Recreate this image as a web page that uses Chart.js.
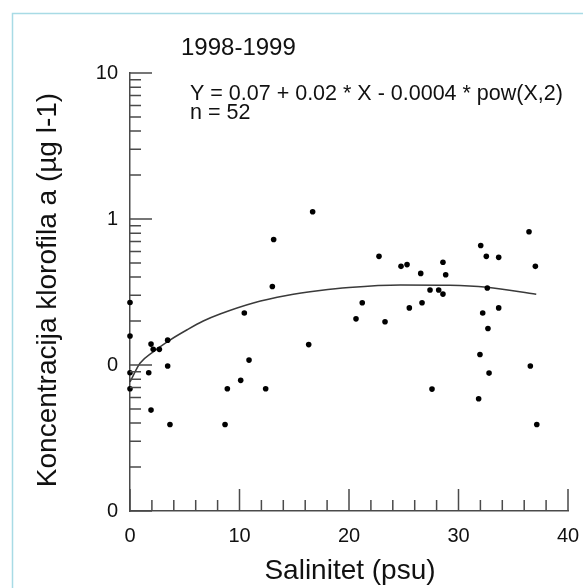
<!DOCTYPE html>
<html lang="hr">
<head>
    <meta charset="UTF-8">
    <title>Klorofil a - salinitet</title>
    <script src="https://cdn.jsdelivr.net/npm/chart.js@4.4.1/dist/chart.umd.min.js"></script>
    <style>
        html, body { margin: 0; padding: 0; background: #ffffff; }
        canvas { display: block; }
    </style>
</head>
<body>
    <canvas id="grafikon" width="583" height="588"></canvas>

    <script>
        // podaci ocitani sa slike
        const salinitet = [
            0, 0, 0, 0, 1.92, 2.12, 2.68, 3.44, 3.44, 1.71,
            1.92, 3.65, 8.68, 8.89, 10.11, 10.87, 10.44, 12.39, 13.0, 13.12,
            16.68, 16.32, 20.64, 21.21, 22.74, 23.29, 24.75, 25.30, 25.51, 26.55,
            26.67, 27.40, 27.58, 28.19, 28.58, 28.58, 28.83, 31.84, 31.96, 32.03,
            32.21, 32.54, 32.63, 32.69, 32.79, 33.67, 33.67, 36.44, 36.56, 37.02,
            37.15
        ];
        const klorofil = [
            0.268, 0.158, 0.0885, 0.0687, 0.139, 0.128, 0.128, 0.148, 0.0984, 0.0885,
            0.0491, 0.0391, 0.0391, 0.0687, 0.0785, 0.108, 0.227, 0.0687, 0.345, 0.723,
            1.12, 0.138, 0.207, 0.267, 0.555, 0.198, 0.474, 0.487, 0.246, 0.424,
            0.267, 0.326, 0.0684, 0.326, 0.505, 0.306, 0.415, 0.0587, 0.118, 0.658,
            0.227, 0.555, 0.337, 0.178, 0.088, 0.546, 0.246, 0.817, 0.0984, 0.474,
            0.0391
        ];

        // krivulja regresije (ocitano sa slike)
        const krivuljaX = [0, 0.91, 2.13, 3.65, 5.18, 6.69, 8.22, 11.26, 14.3, 17.35, 20.0, 24.7, 29.2, 32.6, 37.1];
        const krivuljaY = [0.0765, 0.1027, 0.1233, 0.1483, 0.1737, 0.2001, 0.2234, 0.2659, 0.2992, 0.3237, 0.3396, 0.3532, 0.3515, 0.3405, 0.305];

        // oznake osi
        const xOznake = [0, 10, 20, 30, 40];
        const yVrijednosti = [0.01, 0.1, 1, 10];
        const yOznake = ['0', '0', '1', '10'];

        const tocke = salinitet.map((x, i) => ({ x: x, y: klorofil[i] }));
        const krivulja = krivuljaX.map((x, i) => ({ x: x, y: krivuljaY[i] }));

        const bojaOsi = '#4a4a4a';
        const pismo = '"Liberation Sans", Arial, sans-serif';

        // okvir, crtice okrenute prema unutra i tekstovi
        const dodaci = {
            id: 'dodaci',
            beforeDraw(chart) {
                const c = chart.ctx;
                c.save();
                c.strokeStyle = '#a8dbe5';
                c.lineWidth = 1.5;
                c.beginPath();
                c.moveTo(12.5, 600);
                c.lineTo(12.5, 13.5);
                c.lineTo(600, 13.5);
                c.stroke();
                c.restore();
            },
            afterDraw(chart) {
                const c = chart.ctx;
                const xs = chart.scales.x;
                const ys = chart.scales.y;
                const lijevo = xs.left;
                const dno = ys.bottom;
                c.save();
                c.strokeStyle = bojaOsi;
                c.lineWidth = 1.5;
                c.beginPath();
                // y crtice
                yVrijednosti.forEach((d, i) => {
                    const py = ys.getPixelForValue(d);
                    c.moveTo(lijevo, py);
                    c.lineTo(lijevo + 22, py);
                    if (i < yVrijednosti.length - 1) {
                        for (let k = 2; k <= 9; k++) {
                            const pm = ys.getPixelForValue(d * k);
                            c.moveTo(lijevo, pm);
                            c.lineTo(lijevo + 11, pm);
                        }
                    }
                });
                // x crtice
                for (let v = 0; v <= 40; v += 2) {
                    const px = xs.getPixelForValue(v);
                    const duzina = v % 10 === 0 ? 22 : 11;
                    c.moveTo(px, dno);
                    c.lineTo(px, dno - duzina);
                }
                c.stroke();

                c.fillStyle = '#111111';
                c.textAlign = 'left';
                c.textBaseline = 'alphabetic';
                c.font = '24px ' + pismo;
                c.fillText('1998-1999', 181, 55);
                c.font = '21.5px ' + pismo;
                c.fillText('Y = 0.07 + 0.02 * X - 0.0004 * pow(X,2)', 190, 100);
                c.fillText('n = 52', 190, 119);

                c.font = '28px ' + pismo;
                c.textAlign = 'center';
                c.fillText('Salinitet (psu)', 350, 579);

                c.translate(56, 290);
                c.rotate(-Math.PI / 2);
                c.fillText('Koncentracija klorofila a (\u00b5g l-1)', 0, 0);
                c.restore();
            }
        };

        const ctx = document.getElementById('grafikon').getContext('2d');
        new Chart(ctx, {
            type: 'scatter',
            data: {
                datasets: [
                    {
                        label: 'mjerenja',
                        data: tocke,
                        backgroundColor: '#000000',
                        borderColor: '#000000',
                        pointRadius: 2.8,
                        pointBorderWidth: 0,
                        clip: false
                    },
                    {
                        label: 'regresija',
                        type: 'line',
                        data: krivulja,
                        borderColor: '#3a3a3a',
                        borderWidth: 1.5,
                        pointRadius: 0,
                        cubicInterpolationMode: 'monotone',
                        fill: false,
                        clip: false
                    }
                ]
            },
            options: {
                responsive: false,
                animation: false,
                layout: {
                    autoPadding: false,
                    padding: { top: 73, right: 15, bottom: 0, left: 0 }
                },
                plugins: {
                    legend: { display: false },
                    tooltip: { enabled: false }
                },
                scales: {
                    x: {
                        type: 'linear',
                        min: 0,
                        max: 40,
                        afterFit: (s) => { s.height = 77; s.paddingLeft = 0; s.paddingRight = 0; },
                        afterBuildTicks: (s) => { s.ticks = xOznake.map(v => ({ value: v })); },
                        grid: { display: false, drawTicks: false },
                        border: { display: true, color: bojaOsi, width: 1.5 },
                        ticks: {
                            padding: 13,
                            color: '#111111',
                            maxRotation: 0,
                            font: { family: pismo, size: 20 }
                        }
                    },
                    y: {
                        type: 'logarithmic',
                        min: 0.01,
                        max: 10,
                        afterFit: (s) => { s.width = 130; s.paddingTop = 0; s.paddingBottom = 0; },
                        afterBuildTicks: (s) => { s.ticks = yVrijednosti.map(v => ({ value: v })); },
                        grid: { display: false, drawTicks: false },
                        border: { display: true, color: bojaOsi, width: 1.5 },
                        ticks: {
                            padding: 12,
                            color: '#111111',
                            font: { family: pismo, size: 20 },
                            callback: function(valor) {
                                const i = yVrijednosti.indexOf(valor);
                                return i >= 0 ? yOznake[i] : '';
                            }
                        }
                    }
                }
            },
            plugins: [dodaci]
        });
    </script>
</body>
</html>
